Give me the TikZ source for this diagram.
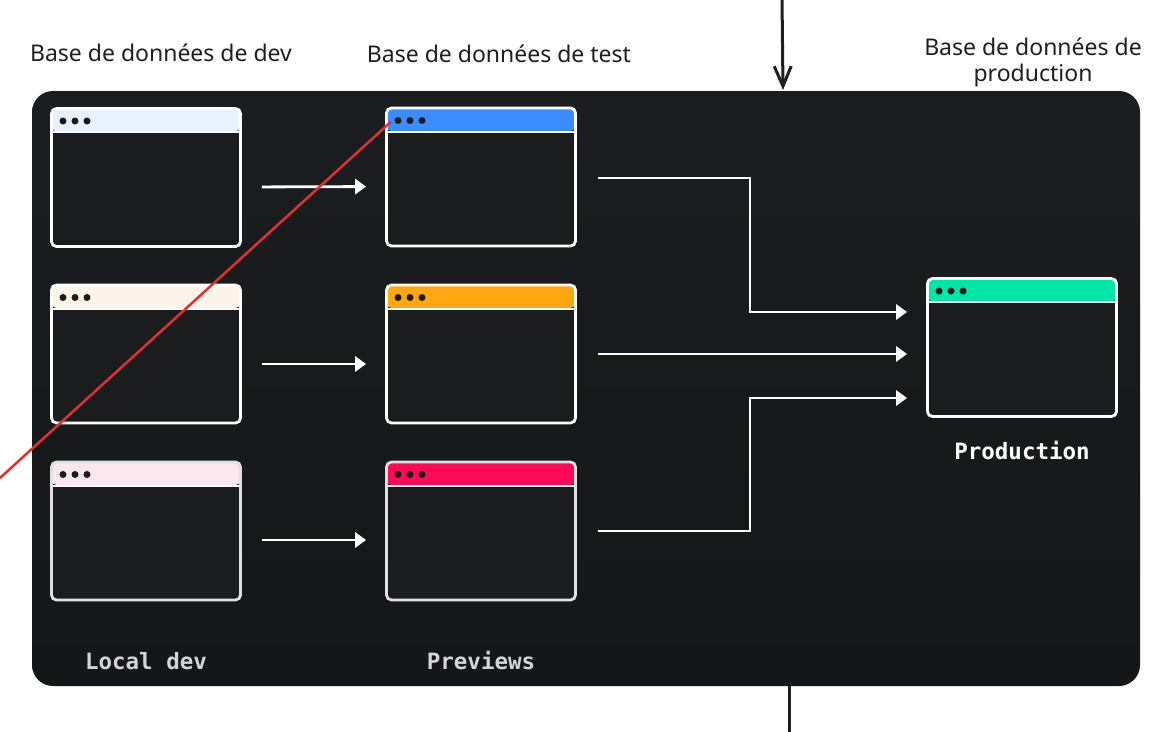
\documentclass[tikz,border=0pt]{standalone}
\usepackage{fontspec}
\setmainfont{Noto Sans}
\setmonofont{DejaVu Sans Mono}
\usetikzlibrary{arrows.meta,calc}
\definecolor{panelT}{HTML}{1C1D20}
\definecolor{panelB}{HTML}{151618}
\definecolor{winbg}{HTML}{1B1C1E}
\definecolor{dotc}{HTML}{1B1C1E}
\definecolor{h1}{HTML}{E8F1FE}
\definecolor{h2}{HTML}{FDF3E8}
\definecolor{h3}{HTML}{FDE7EE}
\definecolor{p1c}{HTML}{3B8CFF}
\definecolor{p2c}{HTML}{FFA710}
\definecolor{p3c}{HTML}{FF0A57}
\definecolor{prc}{HTML}{00E6A6}
\definecolor{redl}{HTML}{E03131}
\definecolor{ink}{HTML}{1E1E1E}
\definecolor{lbl}{HTML}{D4D4D4}
\tikzset{
  win/.style={minimum width=189pt, minimum height=138pt, inner sep=0pt,
    rounded corners=5pt, line width=2.8pt, draw=white, fill=winbg,
    path picture={
      \fill[#1] (path picture bounding box.north west) rectangle ([yshift=-23pt]path picture bounding box.north east);
      \draw[white,line width=2.2pt] ([yshift=-23.75pt]path picture bounding box.north west) -- ([yshift=-23.75pt]path picture bounding box.north east);
      \foreach \dx in {11.5,23.5,35.5}{
        \fill[dotc] ([xshift=\dx pt,yshift=-12.5pt]path picture bounding box.north west) circle (3.5pt);}
    }},
  conn/.style={draw=white, line width=2.8pt, -{Triangle[length=11pt,width=15pt]}},
  hand/.style={font=\fontsize{23}{26}\selectfont, text=ink, align=center, inner sep=0pt},
  mono/.style={font=\ttfamily\bfseries\fontsize{22.5}{24}\selectfont, inner sep=0pt},
  blk/.style={draw=ink, line width=3pt}
}
\begin{document}
\begin{tikzpicture}[x=1pt,y=-1pt]
\useasboundingbox (0,0) rectangle (1170,731);
\node[minimum width=1108pt, minimum height=595pt, rounded corners=21pt, top color=panelT, bottom color=panelB, inner sep=0pt] (panel) at (586,388.5) {};

% windows
\node[win=h1] (d1) at (146,177.5) {};
\node[win=h2] (d2) at (146,354) {};
\node[win=h3, draw=white!88!black] (d3) at (146,531) {};
\node[win=p1c] (p1) at (481,177) {};
\node[win=p2c] (p2) at (481,354) {};
\node[win=p3c, draw=white!88!black] (p3) at (481,531) {};
\node[win=prc] (prod) at (1022,347.5) {};

% arrows
\draw[conn, shorten <=20pt, shorten >=19pt] ([yshift=-9.5pt]d1.east) -- ([yshift=-9.5pt]p1.west);
\draw[conn, shorten <=20pt, shorten >=19pt] ([yshift=-10pt]d2.east) -- ([yshift=-10pt]p2.west);
\draw[conn, shorten <=20pt, shorten >=19pt] ([yshift=-9pt]d3.east) -- ([yshift=-9pt]p3.west);
\draw[conn, shorten <=21pt, shorten >=19pt] ([yshift=-1pt]p1.east) -- ++(173,0) |- ([yshift=35.5pt]prod.west);
\draw[conn, shorten <=21pt, shorten >=19pt] (p2.east) -- (p2.east -| prod.west);
\draw[conn, shorten <=21pt, shorten >=19pt] (p3.east) -- ++(173,0) |- ([yshift=-50.5pt]prod.west);

% labels
\node[mono, text=lbl] (l1) at (146,661) {Local dev};
\node[mono, text=lbl] (l2) at (481,661) {Previews};
\node[mono, text=white] (l3) at (1022,451) {Production};

\node[hand] (t1) at (161,53) {Base de données de dev};
\node[hand] (t2) at (499,54) {Base de données de test};
\node[hand] (t3) at (1033,62) {Base de données de\\production};

% external lines
\coordinate (topsrc) at (782,-2);
\coordinate (topdst) at (783,90);
\draw[blk, -{Straight Barb[length=20pt,width=17pt,line width=3pt]}] (topsrc) -- (topdst);
\coordinate (botsrc) at (789,686);
\coordinate (botdst) at (789,733);
\draw[blk] (botsrc) -- (botdst);

\coordinate (redend) at (0,478);
\draw[redl, line width=2.5pt] ([xshift=6pt,yshift=-15pt]p1.north west) -- (redend);
\end{tikzpicture}
\end{document}
